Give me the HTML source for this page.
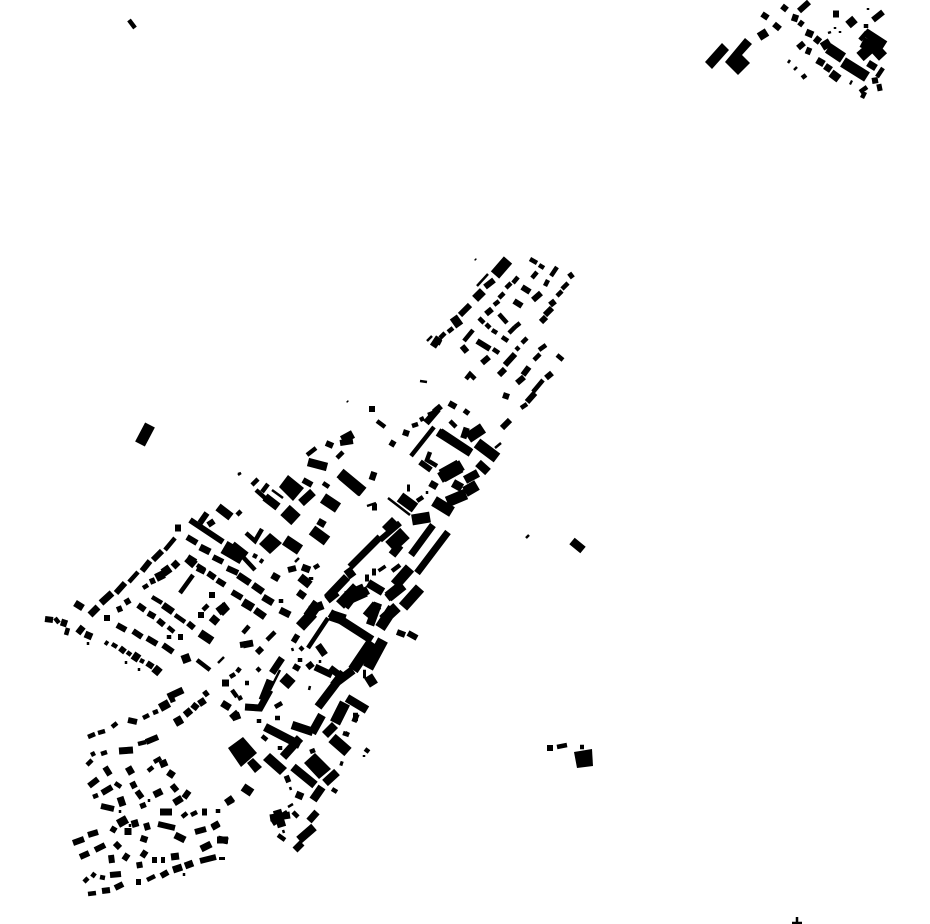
<!DOCTYPE html>
<html><head><meta charset="utf-8"><style>html,body{margin:0;padding:0;background:#fff}svg{display:block}path{fill:none;stroke:#000}polygon{fill:#000}</style></head><body>
<svg width="930" height="924" viewBox="0 0 930 924" xmlns="http://www.w3.org/2000/svg">
<path stroke-width="2.5" d="M526 538L529 535M218 663L224 657M238 475L241 473M420 381L427 382M477 286L488 274M427 341L432 336M495 448L501 443M367 506L376 503M388 498L410 515M295 562L299 558M88 642L88 645M126 661L126 664M139 668L139 671M272 490L283 498M292 648L293 651M320 660L320 663M309 690L310 686M270 690L280 670M290 787L291 790M288 807L293 804M283 830L284 833M364 755L364 757M149 799L149 802M120 810L120 813M130 824L130 827M184 873L184 876M788 63L790 60M794 70L797 67M828 33L831 32M835 27L835 29M840 31L840 33M868 8L868 10M367 506L376 503M427 491L427 494M475 259L476 260M347 401L348 402M238 474L241 473"/>
<path stroke-width="4.5" d="M129 20L135 28M530 259L537 263M539 265L544 268M551 276L557 267M532 278L537 272M545 286L548 280M562 289L568 283M557 296L562 291M513 283L518 277M506 288L511 283M499 298L504 293M494 305L499 301M479 318L484 323M486 324L490 328M492 330L497 333M499 314L507 323M509 333L515 327M515 327L520 323M502 337L508 341M522 343L527 338M464 341L473 330M493 349L499 353M516 350L519 347M534 360L540 354M539 350L546 345M557 355L563 360M533 392L543 380M521 408L527 404M466 379L470 374L475 379M448 332L453 328M440 338L445 333M412 426L418 424M420 420L424 418M428 415L433 413M377 421L385 427M411 456L434 427M430 452L427 460L437 466M417 501L423 497M392 571L400 565M450 421L456 427M307 455L316 448M337 458L343 452M323 483L329 487M252 485L258 479M256 490L265 498M262 492L268 484M237 515L241 511M246 533L255 541L262 529M243 557L255 570M314 568L319 565M253 555L257 557M311 577L311 580M281 599L281 603M260 560L263 562M143 588L148 585M180 593L193 575M197 565L205 570M208 573L215 577M152 597L162 603M175 615L185 622M168 627L174 632M169 635L169 639M203 610L208 605M243 633L249 626M267 640L275 632M105 642L108 644M112 644L117 647M127 652L131 655M140 660L144 662M230 677L235 674M237 672L240 668M257 671L260 668M245 683L249 683M129 582L138 572M165 550L175 538M55 618L59 623M68 628L66 635M197 660L210 670M345 733L349 735M275 707L282 703M275 718L280 718M308 648L328 618M300 650L303 647M300 658L300 662M259 719L259 723M232 690L237 697M239 696L241 700M278 835L285 840M293 812L298 817M310 752L315 750M262 736L267 740M280 746L280 750M365 749L369 752M343 733L349 735M332 789L337 792M340 763L343 764M218 809L218 813M88 737L95 734M98 733L105 731M112 727L117 723M143 718L149 715M153 713L158 711M170 701L175 699M87 765L92 760M91 755L95 753M101 754L107 752M138 744L146 742M154 762L161 758M148 771L153 767M93 797L98 795M115 783L121 787M182 817L187 813M191 815L197 812M147 880L155 876M88 894L96 893M84 882L88 878M92 877L95 873M100 877L105 878M860 40L867 32M802 78L806 75M850 82L852 83M860 92L867 87M862 98L865 92M877 77L883 68M866 24L866 28M580 747L584 747M557 747L567 745M207 692L204 695"/>
<path stroke-width="6" d="M190 520L223 542M514 301L522 306M533 300L541 293M486 314L492 309M485 287L494 280M460 315L470 305M550 305L555 301M545 315L552 308M541 322L546 317M569 277L573 274M522 287L530 292M477 341L490 349M462 346L467 352M482 363L489 357M505 365L515 354M499 375L505 369M523 375L529 367M517 383L524 377M546 378L552 373M527 402L535 393M503 395L509 397M449 403L456 407M465 414L468 410M502 428L510 420M369 409L375 409M403 432L409 434M434 412L441 406M390 442L395 445M420 462L431 470M303 480L312 485M326 443L333 446M340 443L353 441M200 523L207 513M208 525L214 521M187 537L197 543M213 557L223 562M227 568L238 573M232 592L242 598M197 568L205 572M208 573L215 578M217 580L225 585M288 570L296 568M198 615L204 615M212 592L212 598M150 582L155 580M117 625L126 630M133 631L142 637M147 638L157 644M163 645L173 652M178 637L183 637M125 603L130 600M117 610L122 608M104 618L110 618M138 605L145 610M148 613L155 617M158 620L164 625M188 623L194 628M116 593L125 583M142 571L150 561M153 560L162 551M45 619L53 620M120 648L125 652M147 663L153 667M204 695L208 692M240 645L253 643M257 653L262 648M380 540L400 523M212 828L219 824M231 718L238 712M222 857L222 860M146 742L158 737M128 720L137 722M124 860L128 854M111 855L112 863M105 767L110 775M89 786L98 779M102 793L112 787M132 782L135 788M137 791L142 798M142 803L144 808M172 785L177 791M184 798L189 791M101 806L114 809M112 832L115 827M146 823L148 830M158 824L175 828M195 832L206 829M212 827L219 823M73 843L84 839M88 835L98 832M80 857L89 853M95 850L105 845M115 843L120 848M142 857L146 851M139 862L140 868M152 860L157 860M161 860L165 860M200 861L216 857M161 876L168 872M136 882L141 882M115 888L123 884M102 891L110 890M110 875L121 874M762 14L768 18M774 24L780 29M782 6L787 10M799 22L803 25M799 11L809 2M798 48L804 43M873 20L883 12M872 81L878 80M547 748L553 748M437 341L441 343M397 632L405 635M408 633L417 638"/>
<path stroke-width="7" d="M350 567L380 537M175 528L181 528M75 603L83 608M61 622L67 624M85 634L92 637M90 615L98 607M101 603L112 593M173 567L178 562M163 605L173 612M200 547L210 552M238 575L250 583M253 585L263 592M263 597L273 603M280 610L290 615M255 610L265 617M295 670L298 665M308 663L312 668M315 667L332 675M330 668L342 677M245 707L260 708L270 690M222 703L230 708M262 700L270 680M272 673L282 658M232 718L240 715M175 723L182 719M185 715L191 710M193 709L197 704M199 704L205 700M119 751L133 750M168 772L174 776M128 767L132 774M160 765L167 762M134 820L136 827M128 828L128 835M175 835L185 840M201 849L211 844M217 840L228 840M171 857L179 856M185 866L193 863M173 870L182 867M154 795L162 791M174 803L182 798M120 797L123 806M160 812L172 812M202 812L207 812M226 803L233 798M143 842L145 836M226 803L233 799M218 839L228 841M309 821L317 812M295 850L302 843M270 818L290 815M272 823L288 813M285 780L290 778M296 794L303 797M806 32L813 35M806 50L811 52M815 38L820 42M817 60L824 64M825 66L831 70M868 63L876 68M833 14L839 14M877 88L882 87M792 17L798 19M226 803L233 799M168 697L183 690M302 567L310 570M298 592L305 597M272 575L279 579M318 521L325 525M417 573L448 532M411 555L433 525M430 483L437 487M407 488L410 488M365 578L369 578M372 572L376 572M372 507L377 507M243 645L253 643M222 683L229 683M426 423L438 409M343 672L333 685M318 645L325 655"/>
<path stroke-width="8.5" d="M232 545L246 556M187 558L195 565M224 607L222 607M218 612L227 605M218 507L231 517M265 497L278 507M308 462L327 467M301 503L313 492M300 577L310 585M243 602L253 608M220 613L227 606M212 623L217 617M200 633L212 641M182 660L190 657M78 628L83 632M156 578L164 574M163 573L170 568M187 558L195 563M133 655L139 659M154 668L160 673M438 432L471 453M440 432L470 452M453 483L462 488M465 480L478 473M478 463L488 472M342 440L353 434M370 475L376 477M347 569L353 577M340 580L344 585M368 583L383 592M381 567L383 570M330 613L372 640M265 727L300 745M283 757L300 738M292 725L313 732M347 698L367 710M353 717L358 717M353 717L358 719M363 674L366 674M243 787L252 793M118 824L127 819M160 708L169 703M175 723L182 719M759 37L767 32M822 47L830 42M831 73L839 79M848 25L855 19M865 32L885 45M572 541L583 550M293 637L298 640M293 767L315 785M325 783L337 772M313 800L322 787M299 840L314 827M277 810L282 827M327 598L347 577M327 600L337 592M345 607L358 590M387 598L397 590M353 598L368 590M405 605L417 590M370 625L378 603M337 682L318 707M312 733L322 715M325 735L335 725M310 610L323 605M283 757L300 738M353 670L337 682M395 520L385 530M400 545L392 555"/>
<path stroke-width="11" d="M400 497L415 508M468 438L483 428M477 443L497 458M462 432L468 434M440 478L462 465M447 502L466 494M434 501L452 512M465 492L477 485M412 520L430 517M285 540L300 550M323 498L338 508M342 475L362 492M340 473L363 492M312 530L327 541M283 677L292 685M300 627L313 613M308 617L318 603M340 605L357 587M330 615L345 620M372 642L353 670M383 640L368 668M380 628L393 608M335 723L345 703M332 738L348 752M367 683L375 678M395 585L410 568M388 597L403 585M403 607L420 588M383 620L397 607M367 617L377 605M843 62L867 77M828 48L843 58M860 57L877 42M870 43L883 57M140 444L150 425M495 275L508 260M476 292L482 298M433 340L439 344M453 324L460 319M862 42L878 50"/>
<path stroke-width="14" d="M285 510L296 520M390 547L405 533M347 598L365 590M224 547L243 558M442 476L460 466"/>
<polygon points="288,475 304,488 293,501 279,487"/>
<polygon points="270,533 282,543 270,554 259,544"/>
<polygon points="228,748 243,737 257,753 241,767"/>
<polygon points="247,763 253,758 262,767 255,773"/>
<polygon points="263,760 270,753 287,768 280,775"/>
<polygon points="304,763 315,753 331,769 319,779"/>
<polygon points="705,62 722,43 729,50 712,69"/>
<polygon points="725,62 745,38 752,44 742,55 750,63 738,75"/>
<polygon points="574,752 592,749 593,766 577,768"/>
<path stroke-width="2.5" d="M797 917L797 924M792 923L802 923"/>
</svg>
</body></html>
